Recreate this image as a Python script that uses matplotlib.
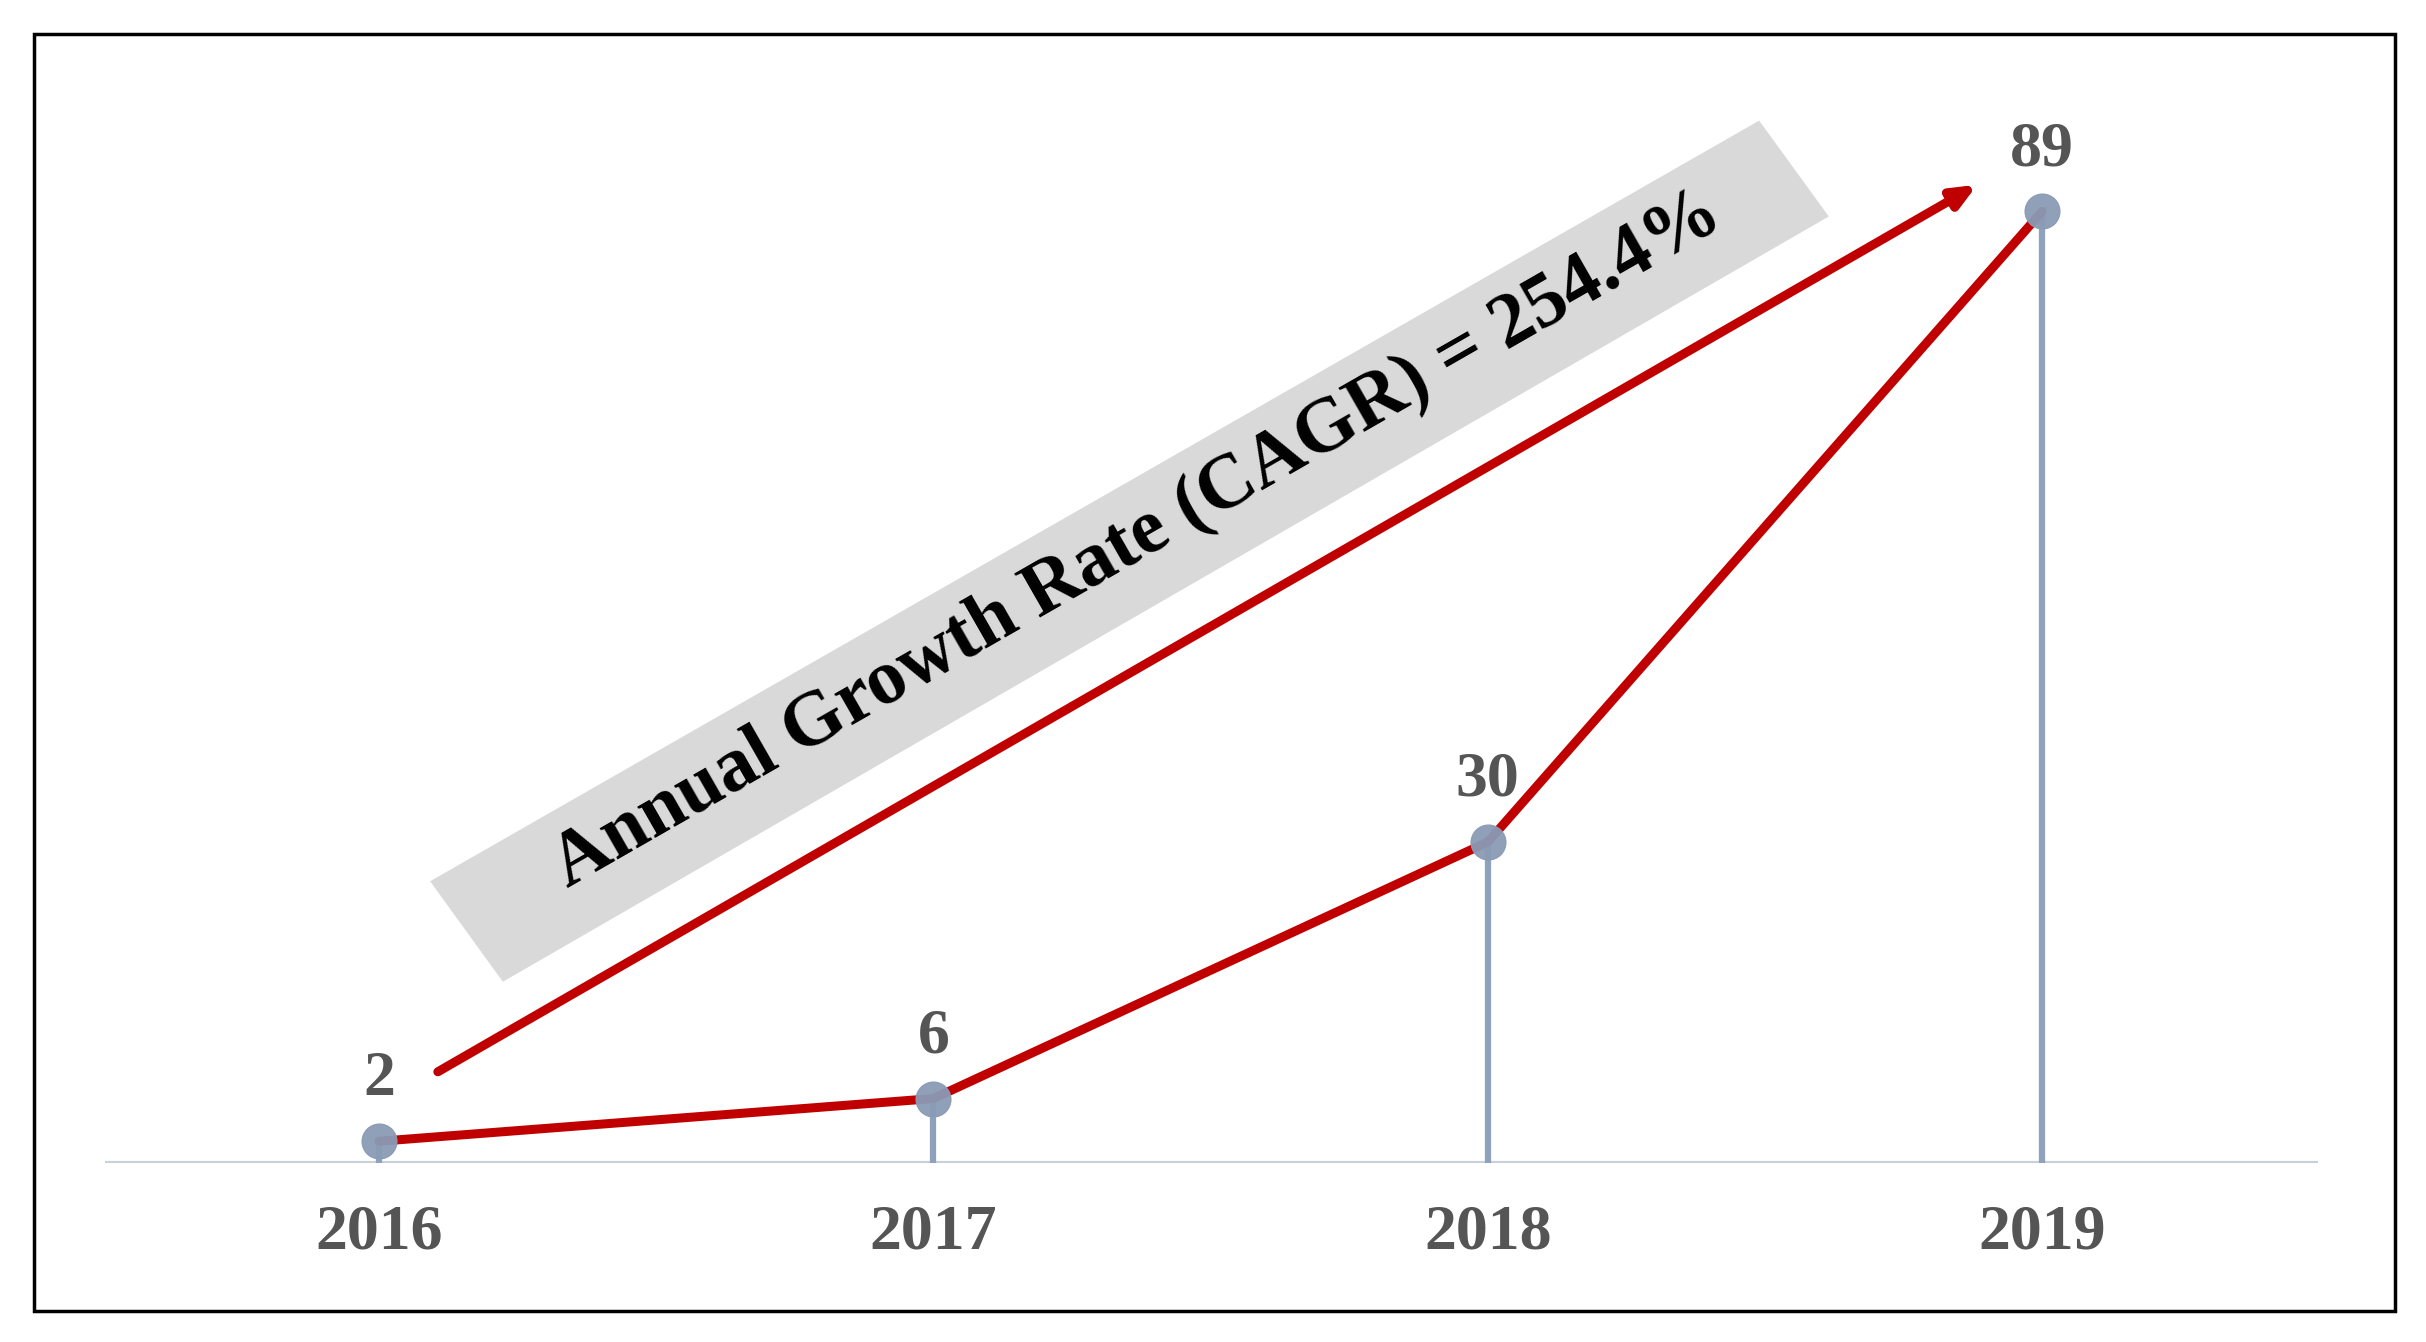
import matplotlib.pyplot as plt
from matplotlib.patches import Rectangle, Polygon

years = [2016, 2017, 2018, 2019]
values = [2, 6, 30, 89]
arrow_start = (2016.106, 8.5)
arrow_end = (2018.883, 91.5)
label = "Annual Growth Rate (CAGR) = 254.4%"

W, H = 1568, 868  # reference pixel grid used for layout
fig = plt.figure(figsize=(24.26, 13.42), dpi=100)

# outer frame
fig.patches.append(Rectangle((22 / W, 1 - 848 / H), (1548 - 22) / W, (848 - 22) / H,
                             transform=fig.transFigure, fill=False, ec='black', lw=2.5))

# grey rotated band behind the annotation
corners = [(278, 570), (1137, 78), (1182, 140), (325, 635)]
fig.patches.append(Polygon([(x / W, 1 - y / H) for x, y in corners], closed=True,
                           transform=fig.transFigure, fc='#d9d9d9', ec='none', zorder=0))

ax = fig.add_axes([68 / W, 1 - 752 / H, (1498 - 68) / W, (752 - 60) / H])
ax.patch.set_alpha(0)
ax.set_xlim(2015.506, 2019.497)
ax.set_ylim(0, 100.1)

ax.vlines(years, 0, values, color='#8ea3bb', lw=4.5, zorder=2)
ax.plot(years, values, color='#c00000', lw=6.5, zorder=3,
        solid_capstyle='round')
ax.plot(years, values, 'o', color='#8a9bb5', ms=25, zorder=4, alpha=0.95)
ax.axhline(0, color='#c8d0dc', lw=3, zorder=1)

for x, v in zip(years, values):
    ax.text(x, v + 3.0, str(v), ha='center', va='bottom', fontsize=46,
            fontweight='bold', family='Liberation Serif', color='#555555')

ax.annotate('', xy=arrow_end, xytext=arrow_start,
            arrowprops=dict(arrowstyle='-|>,head_length=1.4,head_width=0.6',
                            color='#c00000', lw=6.5, shrinkA=0, shrinkB=0))

fig.text(735 / W, 1 - 350 / H, label, rotation=29.8, ha='center', va='center',
         rotation_mode='anchor', fontsize=56, fontweight='bold',
         family='Liberation Serif', color='black')

ax.set_xticks(years)
ax.set_xticklabels([str(y) for y in years], fontsize=46, fontweight='bold',
                   family='Liberation Serif', color='#555555')
ax.tick_params(axis='x', length=0, pad=30)
ax.set_yticks([])
for s in ax.spines.values():
    s.set_visible(False)

fig.savefig('out.png', dpi=100)
